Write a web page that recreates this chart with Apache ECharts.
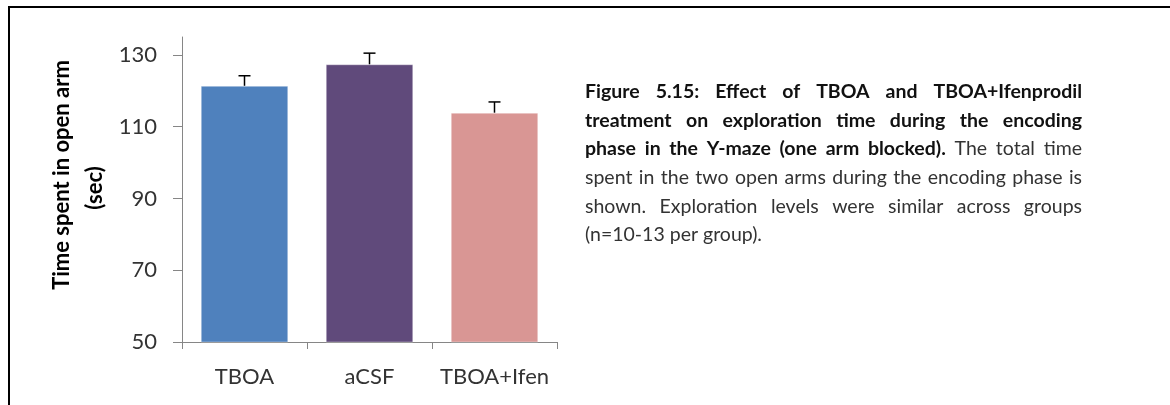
<!DOCTYPE html>
<html>
<head>
<meta charset="utf-8">
<script src="https://cdn.jsdelivr.net/npm/echarts@6/dist/echarts.min.js"></script>
<style>
  html, body { margin: 0; padding: 0; background: #fff; }
  #chart { width: 1170px; height: 405px; }
</style>
</head>
<body>
<div id="chart"></div>
<script>
// Groups and exploration times (sec), with upper error (SEM)
const categories = ['TBOA', 'aCSF', 'TBOA+Ifen'];
const meanTime = [121.4, 127.4, 113.9];
const semTime = [2.8, 3.1, 3.0];
const barColors = ['#4F81BD', '#604A7B', '#D99694'];
const yTicks = [50, 70, 90, 110, 130];
const yTitle = ['Time spent in open arm', '(sec)'];

// Caption, one entry per printed line; b = bold run
const captionLines = [
  [{ t: 'Figure 5.15: Effect of TBOA and TBOA+Ifenprodil', b: true }],
  [{ t: 'treatment on exploration time during the encoding', b: true }],
  [{ t: 'phase in the Y-maze (one arm blocked).', b: true }, { t: 'The total time', b: false }],
  [{ t: 'spent in the two open arms during the encoding phase is', b: false }],
  [{ t: 'shown. Exploration levels were similar across groups', b: false }],
  [{ t: '(n=10-13 per group).', b: false }]
];

const FONT = 'Lato, "Open Sans", sans-serif';
const CAP_SIZE = 19.5;
const CAP_LEFT = 585, CAP_RIGHT = 1082, CAP_TOP = 92, CAP_STEP = 28.6;

const measureCtx = document.createElement('canvas').getContext('2d');
function wordWidth(text, bold) {
  measureCtx.font = (bold ? 'bold ' : '') + CAP_SIZE + 'px ' + FONT;
  return measureCtx.measureText(text).width;
}

// Justified caption: every line but the last is spread to the full column width
function buildCaption() {
  const els = [];
  captionLines.forEach((line, li) => {
    const words = [];
    line.forEach(run => run.t.split(' ').forEach(w => { if (w) words.push({ w, b: run.b }); }));
    const widths = words.map(o => wordWidth(o.w, o.b));
    const total = widths.reduce((a, b) => a + b, 0);
    const last = li === captionLines.length - 1;
    const gap = last ? wordWidth(' ', false) : (CAP_RIGHT - CAP_LEFT - total) / (words.length - 1);
    let x = CAP_LEFT;
    const y = CAP_TOP + li * CAP_STEP;
    words.forEach((o, i) => {
      els.push({
        type: 'text', x: x, y: y, silent: true,
        style: {
          text: o.w, fill: o.b ? '#111' : '#333',
          font: (o.b ? 'bold ' : '') + CAP_SIZE + 'px ' + FONT,
          textAlign: 'left', textVerticalAlign: 'middle'
        }
      });
      x += widths[i] + gap;
    });
  });
  return els;
}

const chart = echarts.init(document.getElementById('chart'), null, { renderer: 'canvas' });

const graphics = [
  // frame lines
  { type: 'line', shape: { x1: 8, y1: 7, x2: 1170, y2: 7 }, style: { stroke: '#000', lineWidth: 2 }, silent: true },
  { type: 'line', shape: { x1: 9, y1: 6, x2: 9, y2: 405 }, style: { stroke: '#000', lineWidth: 2 }, silent: true },
  // y axis title
  {
    type: 'text', x: 62, y: 175, rotation: Math.PI / 2, silent: true,
    style: { text: yTitle[0], fill: '#000', font: 'bold 22px ' + FONT, textAlign: 'center', textVerticalAlign: 'middle' }
  },
  {
    type: 'text', x: 95, y: 188, rotation: Math.PI / 2, silent: true,
    style: { text: yTitle[1], fill: '#000', font: 'bold 22px ' + FONT, textAlign: 'center', textVerticalAlign: 'middle' }
  }
].concat(buildCaption());

chart.setOption({
  animation: false,
  backgroundColor: '#fff',
  grid: { left: 182, right: 613, top: 37, bottom: 63, containLabel: false },
  xAxis: {
    type: 'category',
    data: categories,
    axisLine: { lineStyle: { color: '#868686', width: 1 } },
    axisTick: { show: true, alignWithLabel: false, length: 7, lineStyle: { color: '#868686' } },
    axisLabel: { interval: 0, hideOverlap: false, color: '#333', fontSize: 22, fontFamily: FONT, margin: 24 },
    splitLine: { show: false }
  },
  yAxis: {
    type: 'value',
    min: 50,
    max: 135,
    axisLine: { show: true, lineStyle: { color: '#868686', width: 1 } },
    axisTick: { show: true, length: 9, customValues: yTicks, lineStyle: { color: '#868686' } },
    axisLabel: { color: '#333', fontSize: 22, fontFamily: FONT, margin: 25, customValues: yTicks },
    splitLine: { show: false }
  },
  series: [
    {
      type: 'bar',
      barWidth: '70%',
      data: meanTime.map((v, i) => ({
        value: v,
        itemStyle: { color: barColors[i], borderColor: 'rgba(255,255,255,0.35)', borderWidth: 1 }
      }))
    },
    {
      type: 'custom',
      z: 10,
      data: meanTime.map((v, i) => [i, v, v + semTime[i]]),
      renderItem: function (params, api) {
        const x = api.value(0);
        const base = api.coord([x, api.value(1)]);
        const top = api.coord([x, api.value(2)]);
        const half = 6;
        const st = { stroke: '#000', lineWidth: 1.5 };
        return {
          type: 'group',
          children: [
            { type: 'line', shape: { x1: base[0], y1: base[1], x2: top[0], y2: top[1] }, style: st },
            { type: 'line', shape: { x1: top[0] - half, y1: top[1], x2: top[0] + half, y2: top[1] }, style: st }
          ]
        };
      }
    }
  ],
  graphic: graphics
});
</script>
</body>
</html>
